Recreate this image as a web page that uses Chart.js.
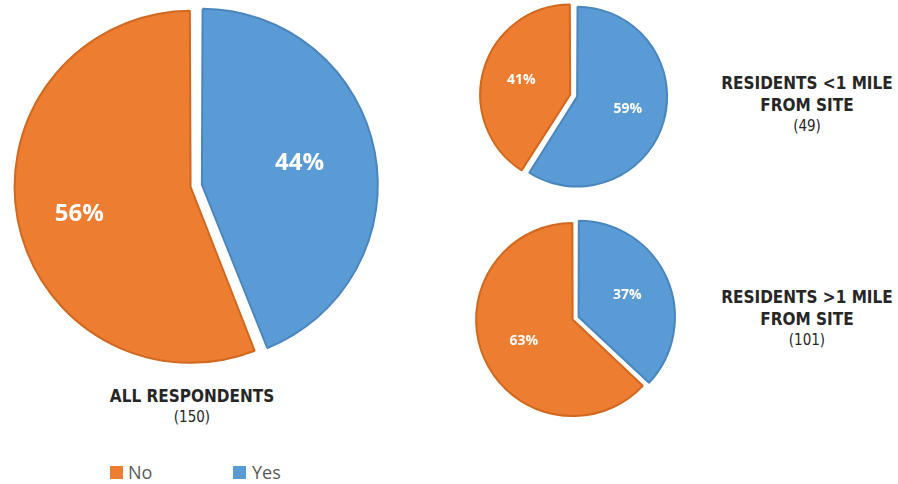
<!DOCTYPE html>
<html><head><meta charset="utf-8">
<script src="https://cdn.jsdelivr.net/npm/chart.js@4"></script>
<style>
html,body{margin:0;padding:0;background:#fff;width:898px;height:484px;overflow:hidden;position:relative}
canvas{position:absolute}
.t{position:absolute;text-align:center;color:#262626;font-family:'DejaVu Sans Condensed','DejaVu Sans',sans-serif;font-weight:bold;font-size:17px;line-height:22px;width:220px}
.n{font-weight:normal;font-size:15px;line-height:20px}
.lg{position:absolute;font-family:'Open Sans',sans-serif;font-size:18px;color:#595959;line-height:20px}
.sq{position:absolute;width:13px;height:13px}
</style></head><body>
<canvas id="c0" width="390" height="390" style="left:0;top:-9px"></canvas>
<canvas id="c1" width="200" height="200" style="left:475px;top:-4px"></canvas>
<canvas id="c2" width="220" height="220" style="left:464px;top:209px"></canvas>
<div class="t" style="left:82px;top:385px">ALL RESPONDENTS<div class="n">(150)</div></div>
<div class="t" style="left:697px;top:72px">RESIDENTS &lt;1 MILE<br>FROM SITE<div class="n">(49)</div></div>
<div class="t" style="left:697px;top:286px">RESIDENTS &gt;1 MILE<br>FROM SITE<div class="n">(101)</div></div>
<div class="sq" style="left:110px;top:466px;background:#ED7D31"></div>
<div class="lg" id="lg0" style="left:128px;top:462px"></div>
<div class="sq" style="left:233px;top:466px;background:#5B9BD5"></div>
<div class="lg" id="lg1" style="left:252px;top:462px"></div>
<script>
const categories = ['No', 'Yes'];
const groups = ['ALL RESPONDENTS', 'RESIDENTS <1 MILE FROM SITE', 'RESIDENTS >1 MILE FROM SITE'];
const counts = [150, 49, 101];
const noPct = [56, 41, 63];
const yesPct = [44, 59, 37];

document.getElementById('lg0').textContent = categories[0];
document.getElementById('lg1').textContent = categories[1];

const fills = ['#ED7D31', '#5B9BD5'];
const borders = ['#D0681F', '#4A86BE'];

function labelPlugin(size, rf, dy) {
  return {
    id: 'pctLabels',
    afterDatasetsDraw(chart) {
      const ctx = chart.ctx;
      const meta = chart.getDatasetMeta(0);
      const ds = chart.data.datasets[0];
      ctx.save();
      ctx.fillStyle = '#fff';
      ctx.font = 'bold ' + size + 'px "Open Sans"';
      ctx.textAlign = 'center';
      ctx.textBaseline = 'middle';
      meta.data.forEach((arc, i) => {
        const p = arc.getProps(['x', 'y', 'startAngle', 'endAngle', 'outerRadius'], true);
        const mid = (p.startAngle + p.endAngle) / 2;
        const off = (ds.offset[i] || 0) / 4;
        const r = p.outerRadius * rf[i] + off;
        ctx.fillText(ds.data[i] + '%', p.x + Math.cos(mid) * r, p.y + Math.sin(mid) * r + dy[i]);
      });
      ctx.restore();
    }
  };
}

const specs = [
  {id: 'c0', radius: 171.5, offset: [18, 28], size: 24, rf: [0.66, 0.58], dy: [6, -3]},
  {id: 'c1', radius: 87.7, offset: [20, 9], size: 14, rf: [0.58, 0.6], dy: [0, -2]},
  {id: 'c2', radius: 95, offset: [6, 20], size: 14, rf: [0.56, 0.56], dy: [0, -1]}
];

specs.forEach((s, g) => {
  const data = [noPct[g], yesPct[g]];
  const rot = yesPct[g] / (noPct[g] + yesPct[g]) * 360;
  new Chart(document.getElementById(s.id), {
    type: 'pie',
    data: {
      labels: categories,
      datasets: [{
        data: data,
        backgroundColor: fills,
        borderColor: borders,
        borderWidth: 2,
        offset: s.offset
      }]
    },
    options: {
      responsive: false,
      animation: false,
      rotation: rot,
      radius: s.radius,
      layout: {padding: 0},
      events: [],
      plugins: {legend: {display: false}, tooltip: {enabled: false}, title: {display: false}}
    },
    plugins: [labelPlugin(s.size, s.rf, s.dy)]
  });
});
</script>
</body></html>
